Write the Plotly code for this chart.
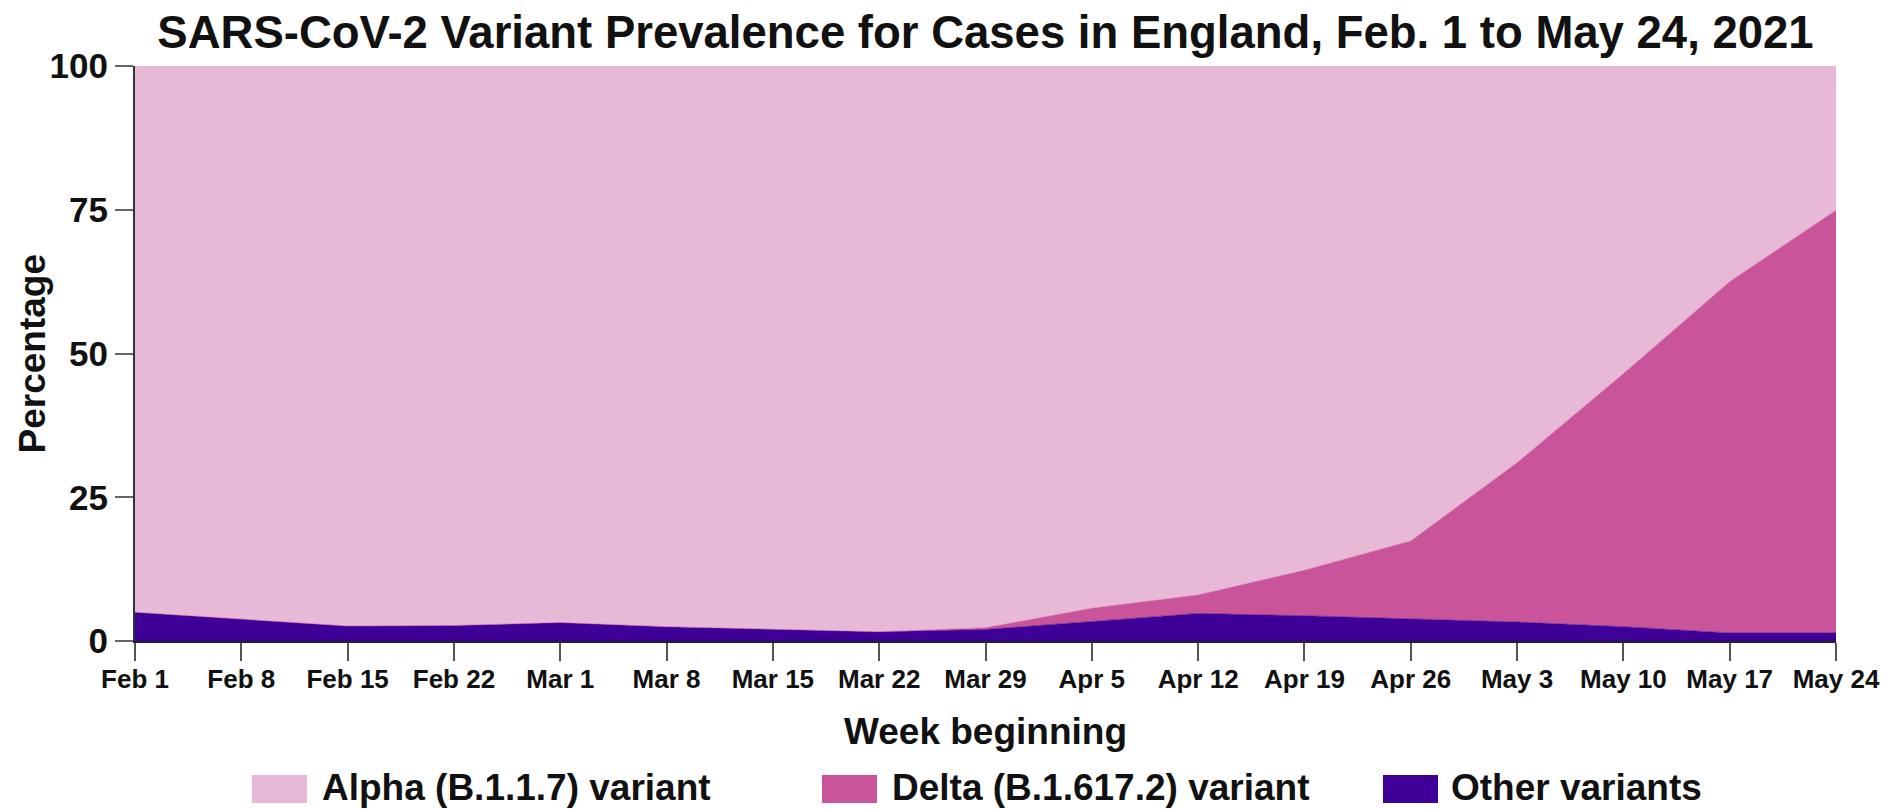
import plotly.graph_objects as go

weeks = ["Feb 1", "Feb 8", "Feb 15", "Feb 22", "Mar 1", "Mar 8", "Mar 15", "Mar 22",
         "Mar 29", "Apr 5", "Apr 12", "Apr 19", "Apr 26", "May 3", "May 10", "May 17", "May 24"]
other = [5.0, 3.8, 2.6, 2.7, 3.2, 2.5, 2.1, 1.6, 2.0, 3.4, 4.8, 4.4, 3.9, 3.3, 2.5, 1.4, 1.4]
delta = [0.0, 0.0, 0.0, 0.0, 0.0, 0.0, 0.0, 0.0, 0.3, 2.3, 3.2, 7.9, 13.5, 27.7, 44.0, 61.1, 73.5]
alpha = [95.0, 96.2, 97.4, 97.3, 96.8, 97.5, 97.9, 98.4, 97.7, 94.3, 92.0, 87.7, 82.6, 69.0, 53.5, 37.5, 25.1]
y_ticks = [0, 25, 50, 75, 100]

names = ["Alpha (B.1.1.7) variant", "Delta (B.1.617.2) variant", "Other variants"]
colors = {"Alpha (B.1.1.7) variant": "#E7B9D6",
          "Delta (B.1.617.2) variant": "#C95499",
          "Other variants": "#3E0096"}

W, H = 1893, 809
L, R, T, B = 135, 57, 66, 168
pw, ph = W - L - R, H - T - B

def px(x):
    return (x - L) / pw

def py(y):
    return (H - B - y) / ph

FONT = "Liberation Sans, Arial, Helvetica, sans-serif"
NARROW = "Liberation Sans Narrow, Arial Narrow, Liberation Sans, sans-serif"

fig = go.Figure()
for name, vals in [("Other variants", other), ("Delta (B.1.617.2) variant", delta),
                   ("Alpha (B.1.1.7) variant", alpha)]:
    fig.add_trace(go.Scatter(
        x=weeks, y=vals, name=name, mode="lines", stackgroup="one",
        line=dict(width=0.5, color=colors[name]), fillcolor=colors[name],
        showlegend=False,
    ))

fig.update_layout(
    width=W, height=H,
    margin=dict(l=L, r=R, t=T, b=B, autoexpand=False),
    paper_bgcolor="white", plot_bgcolor="white",
    font=dict(family=FONT, color="#111111"),
    title=dict(text="SARS-CoV-2 Variant Prevalence for Cases in England, Feb. 1 to May 24, 2021",
               font=dict(size=45.5, family=FONT, weight="bold", color="#111111"),
               x=0.5, xref="paper", xanchor="center",
               y=1 - 32 / H, yref="container", yanchor="middle"),
    xaxis=dict(type="category", range=[0, len(weeks) - 1], showgrid=False, zeroline=False,
               showline=True, linecolor="#222222", linewidth=2,
               ticks="outside", ticklen=18, tickwidth=2, tickcolor="#555555",
               ticklabelstandoff=-4,
               tickfont=dict(size=26, family=NARROW, weight="bold", color="#111111")),
    yaxis=dict(range=[0, 100], tickvals=y_ticks, showgrid=False, zeroline=False,
               showline=True, linecolor="#333333", linewidth=2,
               ticks="outside", ticklen=18, tickwidth=2, tickcolor="#666666",
               tickfont=dict(size=35, family=FONT, weight="bold", color="#111111")),
)

anns = [
    dict(text="Week beginning", x=0.5, y=py(731), xref="paper", yref="paper",
         xanchor="center", yanchor="middle", showarrow=False,
         font=dict(size=37, family=FONT, weight="bold", color="#111111")),
    dict(text="Percentage", x=px(32), y=0.5, xref="paper", yref="paper", textangle=-90,
         xanchor="center", yanchor="middle", showarrow=False,
         font=dict(size=37, family=FONT, weight="bold", color="#111111")),
]
shapes = []
legend_pos = [(252, 320), (822, 890), (1383, 1449)]
for name, (sx, tx) in zip(names, legend_pos):
    shapes.append(dict(type="rect", xref="paper", yref="paper",
                       x0=px(sx), x1=px(sx + 55), y0=py(775), y1=py(803),
                       fillcolor=colors[name], line=dict(width=0)))
    anns.append(dict(text=name, x=px(tx), y=py(787), xref="paper", yref="paper",
                     xanchor="left", yanchor="middle", showarrow=False,
                     font=dict(size=37, family=FONT, weight="bold", color="#111111")))
fig.update_layout(annotations=anns, shapes=shapes)

fig.write_html("out.html", config={"displayModeBar": False},
               post_script="document.body.style.margin='0';")
